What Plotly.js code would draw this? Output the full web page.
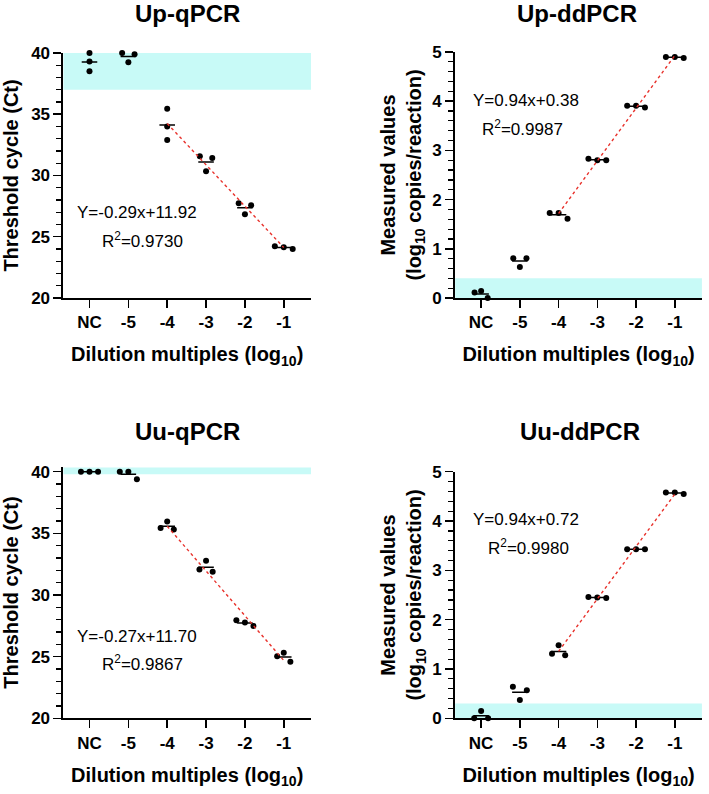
<!DOCTYPE html>
<html>
<head>
<meta charset="utf-8">
<script src="https://cdn.plot.ly/plotly-3.0.1.min.js"></script>
<style>
  body { margin: 0; background: #fff; }
  #chart { width: 709px; height: 794px; }
</style>
</head>
<body>
<div id="chart"></div>
<script>
// Dilution groups on the x axis
const categories = ['NC', '-5', '-4', '-3', '-2', '-1'];

// Replicates (3 per group)
const upQpcr = [[40.0, 39.3, 38.5], [40.0, 39.25, 39.9], [35.45, 34.0, 32.9],
                [31.56, 30.34, 31.43], [27.73, 26.83, 27.56], [24.22, 24.14, 24.0]];
const upDdpcr = [[0.11, 0.14, 0.0], [0.81, 0.63, 0.81], [1.73, 1.73, 1.61],
                 [2.83, 2.80, 2.80], [3.91, 3.91, 3.87], [4.90, 4.90, 4.88]];
const uuQpcr = [[40.0, 40.0, 40.0], [40.0, 40.0, 39.38], [35.43, 35.97, 35.32],
                [32.08, 32.78, 31.89], [27.95, 27.78, 27.49], [25.03, 25.32, 24.59]];
const uuDdpcr = [[0.0, 0.15, 0.0], [0.64, 0.37, 0.57], [1.31, 1.48, 1.28],
                 [2.46, 2.45, 2.44], [3.43, 3.43, 3.43], [4.58, 4.58, 4.55]];

// Limit-of-detection bands (y0, y1)
const bands = [[37, 40], [0, 0.4], [39.8, 40.35], [0, 0.3]];

// Fitted equations shown on each panel
const equations = ['Y=-0.29x+11.92', 'Y=0.94x+0.38', 'Y=-0.27x+11.70', 'Y=0.94x+0.72'];
const rSquared = ['0.9730', '0.9987', '0.9867', '0.9980'];
const titles = ['Up-qPCR', 'Up-ddPCR', 'Uu-qPCR', 'Uu-ddPCR'];

// horizontal spread of replicate dots within a group (style only)
const jitter = [
  [[0, 0, 0], [-0.16, 0, 0.16], [0, 0, 0], [-0.16, 0, 0.16], [-0.16, 0, 0.16], [-0.23, 0, 0.23]],
  [[-0.17, 0, 0.17], [-0.17, 0, 0.17], [-0.23, 0, 0.23], [-0.23, 0, 0.23], [-0.23, 0, 0.23], [-0.23, 0, 0.23]],
  [[-0.22, 0, 0.22], [-0.22, 0, 0.22], [-0.17, 0, 0.17], [-0.17, 0, 0.17], [-0.22, 0, 0.22], [-0.17, 0, 0.17]],
  [[-0.18, 0, 0.18], [-0.18, 0, 0.18], [-0.17, 0, 0.17], [-0.23, 0, 0.23], [-0.23, 0, 0.23], [-0.23, 0, 0.23]]
];

const panels = [
  {data: upQpcr,  ax: '',  xdom: [0.0895, 0.4386], ydom: [0.6247, 0.9333], yr: [20, 40],   dtick: 5, minor: 1,   standoff: 9, ytitle: 'Threshold cycle (Ct)'},
  {data: upDdpcr, ax: '2', xdom: [0.642, 0.99],    ydom: [0.6247, 0.9345], yr: [0, 5],     dtick: 1, minor: 0.2, standoff: 5, ytitle: 'Measured values<br>(log<sub>10</sub> copies/reaction)'},
  {data: uuQpcr,  ax: '3', xdom: [0.0895, 0.4386], ydom: [0.0953, 0.4121], yr: [20, 40.4], dtick: 5, minor: 1,   standoff: 9, ytitle: 'Threshold cycle (Ct)'},
  {data: uuDdpcr, ax: '4', xdom: [0.642, 0.99],    ydom: [0.0953, 0.4059], yr: [0, 5],     dtick: 1, minor: 0.2, standoff: 5, ytitle: 'Measured values<br>(log<sub>10</sub> copies/reaction)'}
];

// where the equation text sits (data coords) and the panel title (paper coords)
const eqPos = [[1.21, 26.94, 1.37, 24.73], [1.16, 4.02, 1.08, 3.46], [1.21, 26.67, 1.37, 24.49], [1.16, 4.04, 1.22, 3.47]];
const titlePos = [[0.264, 0.983], [0.814, 0.983], [0.264, 0.457], [0.818, 0.457]];

const FONT = 'Arial, "Liberation Sans", sans-serif';
const mean = arr => arr.reduce((a, b) => a + b, 0) / arr.length;

// least squares through the replicates of groups -4 .. -1
function fitLine(data) {
  const xs = [], ys = [];
  for (let i = 2; i < 6; i++) data[i].forEach(v => { xs.push(i); ys.push(v); });
  const mx = mean(xs), my = mean(ys);
  let sxy = 0, sxx = 0;
  xs.forEach((x, k) => { sxy += (x - mx) * (ys[k] - my); sxx += (x - mx) * (x - mx); });
  const b = sxy / sxx, a = my - b * mx;
  return {x: [2, 5], y: [a + b * 2, a + b * 5]};
}

const traces = [];
const shapes = [];
const annotations = [];
const layout = {
  width: 709, height: 794,
  margin: {l: 0, r: 0, t: 0, b: 0},
  paper_bgcolor: '#fff', plot_bgcolor: 'rgba(0,0,0,0)',
  showlegend: false,
  font: {family: FONT, color: '#000'}
};

panels.forEach((p, n) => {
  const xa = 'x' + p.ax, ya = 'y' + p.ax;

  // replicate dots
  const px = [], py = [];
  p.data.forEach((grp, i) => grp.forEach((v, k) => { px.push(i + jitter[n][i][k]); py.push(v); }));
  traces.push({x: px, y: py, xaxis: xa, yaxis: ya, type: 'scatter', mode: 'markers',
    marker: {color: '#000', size: 6}, cliponaxis: false, hoverinfo: 'y'});

  // mean bars
  const mx = [], my = [];
  p.data.forEach((grp, i) => { const m = mean(grp); mx.push(i - 0.2, i + 0.2, null); my.push(m, m, null); });
  traces.push({x: mx, y: my, xaxis: xa, yaxis: ya, type: 'scatter', mode: 'lines',
    line: {color: '#000', width: 1.5}, cliponaxis: false, hoverinfo: 'skip'});

  // regression line
  const f = fitLine(p.data);
  traces.push({x: f.x, y: f.y, xaxis: xa, yaxis: ya, type: 'scatter', mode: 'lines',
    line: {color: '#e8322c', width: 1.4, dash: 'dot'}, hoverinfo: 'skip'});

  shapes.push({type: 'rect', xref: xa + ' domain', yref: ya, x0: 0, x1: 1,
    y0: bands[n][0], y1: bands[n][1], fillcolor: '#c8faf7', line: {width: 0}, layer: 'below'});

  layout['xaxis' + p.ax] = {
    domain: p.xdom, anchor: ya, range: [-0.67, 5.7],
    tickvals: [0, 1, 2, 3, 4, 5], ticktext: categories,
    showline: true, linecolor: '#000', linewidth: 2,
    ticks: 'outside', ticklen: 8, tickwidth: 1.5, tickcolor: '#000',
    tickfont: {size: 17, weight: 'bold'},
    showgrid: false, zeroline: false,
    title: {text: 'Dilution multiples (log<sub>10</sub>)', font: {size: 20, weight: 'bold'}, standoff: 16}
  };
  layout['yaxis' + p.ax] = {
    domain: p.ydom, anchor: xa, range: p.yr, dtick: p.dtick, tick0: 0,
    showline: true, linecolor: '#000', linewidth: 2,
    ticks: 'outside', ticklen: 8, tickwidth: 1.5, tickcolor: '#000',
    minor: {dtick: p.minor, ticks: 'outside', ticklen: 5, tickwidth: 1.2, tickcolor: '#000', showgrid: false},
    tickfont: {size: 17, weight: 'bold'},
    showgrid: false, zeroline: false,
    title: {text: p.ytitle, font: {size: 20, weight: 'bold'}, standoff: p.standoff}
  };

  annotations.push({xref: xa, yref: ya, x: eqPos[n][0], y: eqPos[n][1], text: equations[n],
    showarrow: false, font: {size: 17}, xanchor: 'center', yanchor: 'middle'});
  annotations.push({xref: xa, yref: ya, x: eqPos[n][2], y: eqPos[n][3], text: 'R<sup>2</sup>=' + rSquared[n],
    showarrow: false, font: {size: 17}, xanchor: 'center', yanchor: 'middle'});
  annotations.push({xref: 'paper', yref: 'paper', x: titlePos[n][0], y: titlePos[n][1], text: titles[n],
    showarrow: false, font: {size: 24, weight: 'bold'}, xanchor: 'center', yanchor: 'middle'});
});

layout.shapes = shapes;
layout.annotations = annotations;

Plotly.newPlot('chart', traces, layout, {staticPlot: true, displayModeBar: false});
</script>
</body>
</html>
